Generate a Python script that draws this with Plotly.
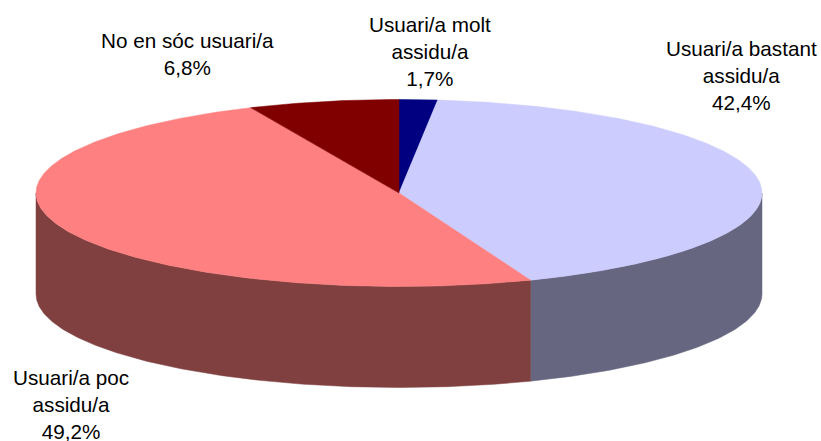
import numpy as np
import plotly.graph_objects as go

# Data, clockwise from twelve o'clock
categories = ["Usuari/a molt<br>assidu/a", "Usuari/a bastant<br>assidu/a", "Usuari/a poc<br>assidu/a", "No en sóc usuari/a"]
values = [1.7, 42.4, 49.2, 6.8]
value_labels = ["1,7%", "42,4%", "49,2%", "6,8%"]

top_colors = ["#000080", "#CCCCFF", "#FF8080", "#800000"]
wall_colors = ["#000040", "#666680", "#804040", "#400000"]

# Layout of the projected pie, in plot units (same as pixels)
W, H = 821, 441
CX, CY, RX, RY, DEPTH = 399.0, 193.0, 363.0, 93.5, 101.0
LABEL_POS = [(429.5, 51.5), (741, 75), (70.5, 404), (187.5, 53.5)]
FONT_SIZE = 20.7


def rim(a0, a1, dy=0.0):
    t = np.radians(np.linspace(a0, a1, max(2, int(abs(a1 - a0) * 2) + 2)))
    return CX + RX * np.sin(t), CY + dy - RY * np.cos(t)


fig = go.Figure()
# The rounded percentages add up to 100,1; the last slice closes the circle
edges = np.minimum(np.concatenate([[0], np.cumsum(values)]) / 100 * 360, 360)

# Visible outer walls (front half of the rim only)
for i in range(len(values)):
    a0, a1 = max(edges[i], 90), min(edges[i + 1], 270)
    if a1 <= a0:
        continue
    xt, yt = rim(a0, a1)
    xb, yb = rim(a1, a0, DEPTH)
    fig.add_trace(go.Scatter(
        x=np.concatenate([xt, xb, xt[:1]]), y=np.concatenate([yt, yb, yt[:1]]),
        mode="lines", fill="toself", fillcolor=wall_colors[i],
        line=dict(color=wall_colors[i], width=0.5), hoverinfo="skip"))

# Top faces
for i in range(len(values)):
    xr, yr = rim(edges[i], edges[i + 1])
    fig.add_trace(go.Scatter(
        x=np.concatenate([[CX], xr, [CX]]), y=np.concatenate([[CY], yr, [CY]]),
        mode="lines", fill="toself", fillcolor=top_colors[i],
        line=dict(color=top_colors[i], width=0.5), hoverinfo="skip"))

for name, val, (lx, ly) in zip(categories, value_labels, LABEL_POS):
    fig.add_annotation(x=lx, y=ly, text=f"{name}<br>{val}", showarrow=False,
                       xanchor="center", yanchor="middle", align="center",
                       font=dict(family="Liberation Sans, Arial, sans-serif", size=FONT_SIZE, color="#000000"))

fig.update_layout(
    width=W, height=H, margin=dict(l=0, r=0, t=0, b=0),
    showlegend=False, paper_bgcolor="#FFFFFF", plot_bgcolor="#FFFFFF",
    xaxis=dict(range=[0, W], visible=False, fixedrange=True),
    yaxis=dict(range=[H, 0], visible=False, fixedrange=True),
)
fig.write_html("out.html", config={"displayModeBar": False},
               post_script="document.body.style.margin='0';document.body.style.overflow='hidden';")
